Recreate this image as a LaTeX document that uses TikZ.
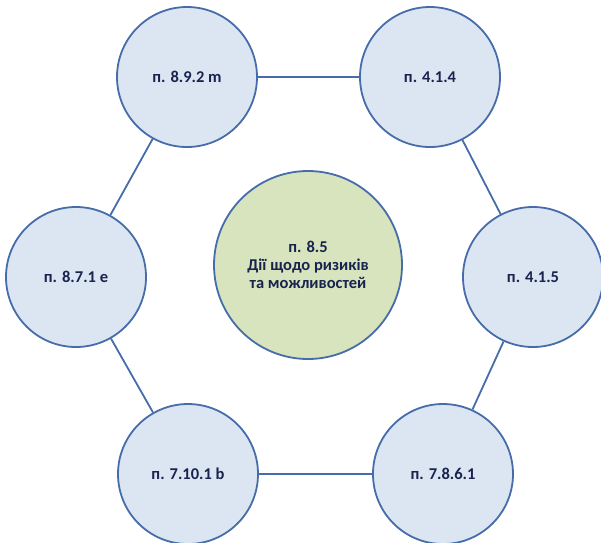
\documentclass[tikz,border=0pt]{standalone}
\usepackage{fontspec}
\setmainfont{Carlito}
\usepackage{tikz}

\definecolor{ringblue}{RGB}{70,108,170}
\definecolor{clausefill}{RGB}{220,230,242}
\definecolor{mainfill}{RGB}{215,228,189}
\definecolor{textnavy}{RGB}{24,36,78}

\begin{document}
\begin{tikzpicture}[x=1pt, y=-1pt,
	clause/.style={circle, draw=ringblue, line width=1.8pt, fill=clausefill, minimum size=140pt, inner sep=0pt, text=textnavy, font=\fontsize{16.5}{18}\selectfont\bfseries},
	main/.style={clause, fill=mainfill, minimum size=188pt, align=center},
	link/.style={draw=ringblue, line width=1.8pt}]
	\useasboundingbox (0,0) rectangle (601,542);
	\node[main] (p85) at (308,265) {п. 8.5\\ Дії щодо ризиків\\ та можливостей};
	\node[clause] (p892) at (187,77) {п. 8.9.2 m};
	\node[clause] (p414) at (430,77) {п. 4.1.4};
	\node[clause] (p415) at (533,277) {п. 4.1.5};
	\node[clause] (p7861) at (443,474) {п. 7.8.6.1};
	\node[clause] (p7101) at (188,474) {п. 7.10.1 b};
	\node[clause] (p871) at (76,277) {п. 8.7.1 e};
	\draw[link] (p892) -- (p414);
	\draw[link] (p414) -- (p415);
	\draw[link] (p415) -- (p7861);
	\draw[link] (p7861) -- (p7101);
	\draw[link] (p7101) -- (p871);
	\draw[link] (p871) -- (p892);
\end{tikzpicture}
\end{document}
